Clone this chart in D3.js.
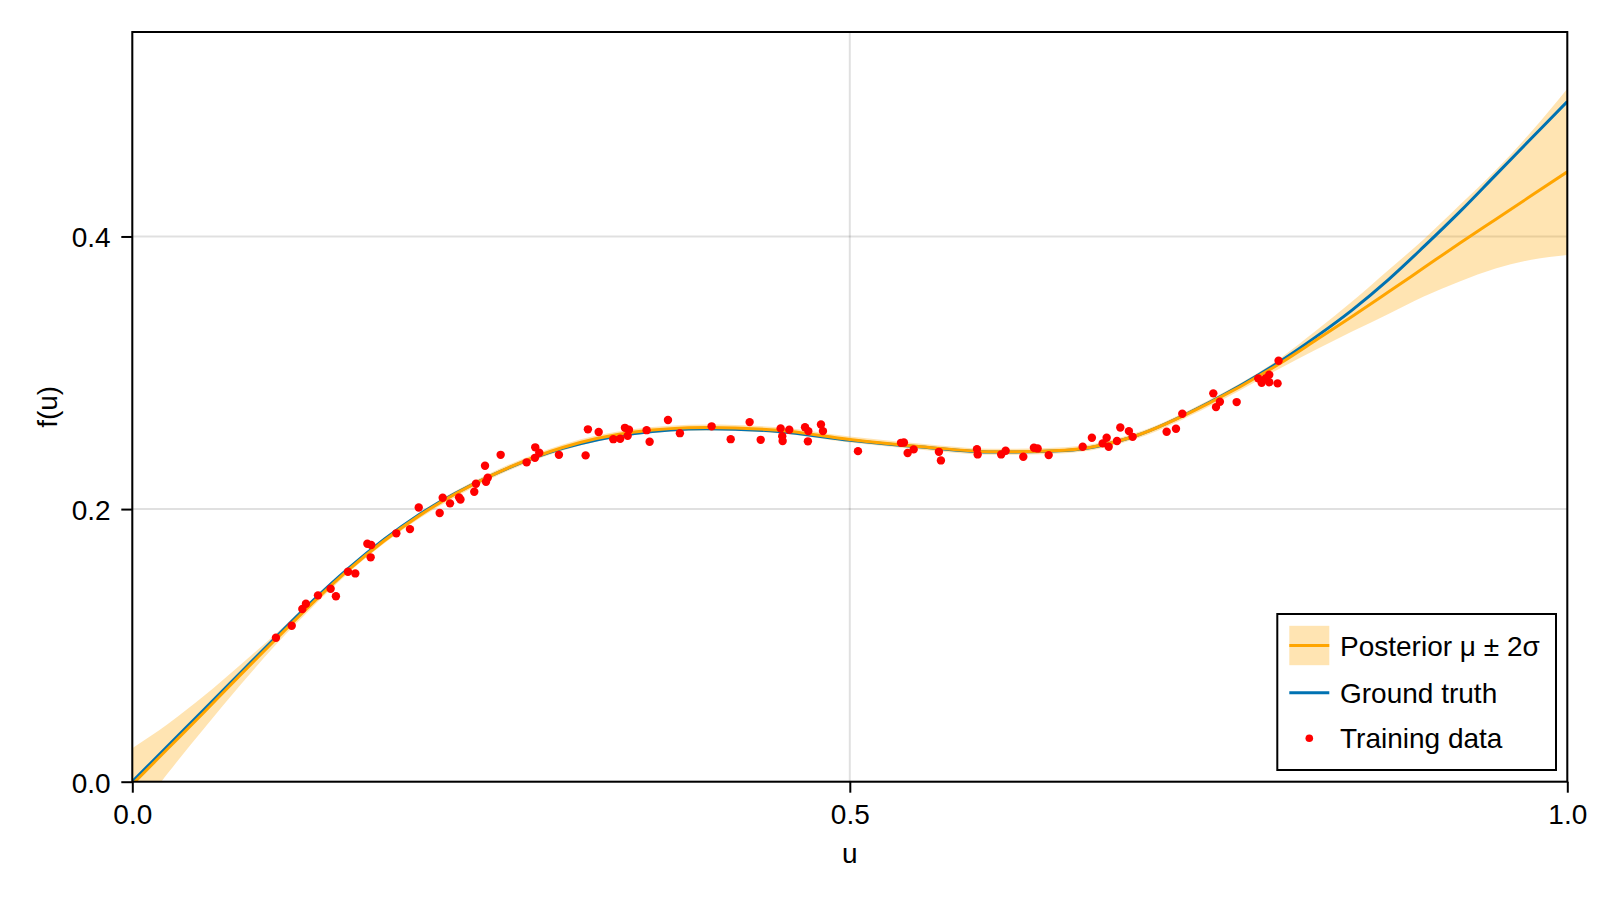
<!DOCTYPE html>
<html>
<head>
<meta charset="utf-8">
<script src="https://cdn.jsdelivr.net/npm/d3@7"></script>
<style>
  html, body { margin: 0; padding: 0; background: #fff; }
  svg { display: block; }
  text { font-family: "Liberation Sans", Arial, Helvetica, sans-serif; fill: #000; }
</style>
</head>
<body>
<svg id="chart" width="1600" height="900"></svg>
<script>
// ---------- data ----------
const uGrid = [0, 0.025, 0.05, 0.075, 0.10, 0.125, 0.15, 0.20, 0.25, 0.30, 0.35, 0.40, 0.45, 0.50,
  0.55, 0.60, 0.65, 0.70, 0.75, 0.80, 0.825, 0.85, 0.875, 0.90, 0.925, 0.95, 0.975, 1.00];
const groundTruth = [0, 0.0265, 0.053, 0.0795, 0.106, 0.132, 0.156, 0.196, 0.2245, 0.2445, 0.2555, 0.2590,
  0.2570, 0.2505, 0.2455, 0.2418, 0.2430, 0.2540, 0.2780, 0.3085, 0.3265, 0.3460, 0.3680, 0.3925, 0.4180,
  0.4450, 0.4720, 0.4990];
const posteriorMean = [-0.002, 0.0245, 0.051, 0.078, 0.1045, 0.1305, 0.1548, 0.1952, 0.2245, 0.2452, 0.2565,
  0.2598, 0.2578, 0.2510, 0.2458, 0.2420, 0.2432, 0.2540, 0.2775, 0.3070, 0.3240, 0.3412, 0.3590, 0.3770,
  0.3950, 0.4125, 0.4300, 0.4474];
const twoSigma = [0.0265, 0.018, 0.012, 0.0075, 0.004, 0.003, 0.0022, 0.0022, 0.0022, 0.0022, 0.0022, 0.0022,
  0.0022, 0.0022, 0.0022, 0.0022, 0.0022, 0.0022, 0.0024, 0.0037, 0.007, 0.011, 0.016, 0.021, 0.028,
  0.036, 0.047, 0.061];

const trainU = [0.1001, 0.1111, 0.1185, 0.1210, 0.1294, 0.1382, 0.1419, 0.1503, 0.1554, 0.1638, 0.1665, 0.1661,
  0.1840, 0.1935, 0.1996, 0.2142, 0.2214, 0.2163, 0.2277, 0.2287, 0.2383, 0.2395, 0.2465, 0.2458, 0.2567,
  0.2477, 0.2748, 0.2808, 0.2836, 0.2806, 0.2973, 0.3159, 0.3175, 0.3250, 0.3352, 0.3400, 0.3433, 0.3461,
  0.3452, 0.3584, 0.3605, 0.3733, 0.3816, 0.4037, 0.4170, 0.4302, 0.4379, 0.4518, 0.4529, 0.4532, 0.4578,
  0.4688, 0.4711, 0.4708, 0.4799, 0.4813, 0.5057, 0.5357, 0.5377, 0.5403, 0.5445, 0.5621, 0.5635, 0.5886,
  0.5891, 0.6055, 0.6086, 0.6209, 0.6283, 0.6309, 0.6386, 0.6623, 0.6687, 0.6762, 0.6790, 0.6804, 0.6862,
  0.6885, 0.6945, 0.6971, 0.7208, 0.7273, 0.7317, 0.7533, 0.7579, 0.7552, 0.7696, 0.7846, 0.7870, 0.7900,
  0.7923, 0.7923, 0.7981, 0.7988];
const trainF = [0.1056, 0.1144, 0.1267, 0.1305, 0.1367, 0.1415, 0.1360, 0.1540, 0.1528, 0.1746, 0.1736, 0.1646,
  0.1822, 0.1853, 0.2012, 0.1971, 0.2042, 0.2083, 0.2086, 0.2070, 0.2127, 0.2186, 0.2200, 0.2318, 0.2398,
  0.2230, 0.2343, 0.2453, 0.2413, 0.2376, 0.2398, 0.2394, 0.2585, 0.2565, 0.2513, 0.2516, 0.2596, 0.2582,
  0.2538, 0.2579, 0.2494, 0.2653, 0.2557, 0.2607, 0.2513, 0.2638, 0.2508, 0.2592, 0.2535, 0.2499, 0.2582,
  0.2601, 0.2572, 0.2497, 0.2621, 0.2572, 0.2425, 0.2486, 0.2489, 0.2411, 0.2438, 0.2420, 0.2357, 0.2440,
  0.2401, 0.2401, 0.2428, 0.2384, 0.2450, 0.2445, 0.2396, 0.2457, 0.2523, 0.2482, 0.2523, 0.2457, 0.2499,
  0.2599, 0.2572, 0.2530, 0.2567, 0.2589, 0.2699, 0.2849, 0.2787, 0.2748, 0.2785, 0.2959, 0.2926, 0.2961,
  0.2985, 0.2931, 0.2922, 0.3088];

const xTicks = [0.0, 0.5, 1.0];
const yTicks = [0.0, 0.2, 0.4];
const legendLabels = ["Posterior \u03bc \u00b1 2\u03c3", "Ground truth", "Training data"];

// ---------- styling ----------
const ORANGE = "#FFA500";
const BAND = "rgba(255,165,0,0.3)";
const BLUE = "#0072B2";
const RED = "#FF0000";
const FS = 28;

const svg = d3.select("#chart");
const L = 132.3, R = 1567.3, T = 32, B = 781.7;
const x = d3.scaleLinear().domain([0, 1]).range([L, R]);
const y = d3.scaleLinear().domain([0, 0.55]).range([B, T]);

svg.append("defs").append("clipPath").attr("id", "plotclip")
  .append("rect").attr("x", L).attr("y", T).attr("width", R - L).attr("height", B - T);

// grid lines
const grid = svg.append("g");
grid.selectAll("line.gx").data(xTicks).join("line")
  .attr("x1", d => x(d)).attr("x2", d => x(d)).attr("y1", T).attr("y2", B)
  .attr("stroke", "rgba(0,0,0,0.12)").attr("stroke-width", 2);
grid.selectAll("line.gy").data(yTicks).join("line")
  .attr("y1", d => y(d)).attr("y2", d => y(d)).attr("x1", L).attr("x2", R)
  .attr("stroke", "rgba(0,0,0,0.12)").attr("stroke-width", 2);

const rows = uGrid.map((u, i) => ({ u, t: groundTruth[i], m: posteriorMean[i], s: twoSigma[i] }));
const plot = svg.append("g").attr("clip-path", "url(#plotclip)");
const curve = d3.curveMonotoneX;

plot.append("path").datum(rows)
  .attr("d", d3.area().x(d => x(d.u)).y0(d => y(d.m - d.s)).y1(d => y(d.m + d.s)).curve(curve))
  .attr("fill", BAND).attr("stroke", "none");

plot.append("path").datum(rows)
  .attr("d", d3.line().x(d => x(d.u)).y(d => y(d.t)).curve(curve))
  .attr("fill", "none").attr("stroke", BLUE).attr("stroke-width", 3);

plot.append("path").datum(rows)
  .attr("d", d3.line().x(d => x(d.u)).y(d => y(d.m)).curve(curve))
  .attr("fill", "none").attr("stroke", ORANGE).attr("stroke-width", 3);

plot.selectAll("circle.pt").data(trainU.map((u, i) => [u, trainF[i]])).join("circle")
  .attr("cx", d => x(d[0])).attr("cy", d => y(d[1])).attr("r", 4.2).attr("fill", RED);

// spines
svg.append("rect").attr("x", L).attr("y", T).attr("width", R - L).attr("height", B - T)
  .attr("fill", "none").attr("stroke", "#000").attr("stroke-width", 2);

// axes
const fmt = d3.format(".1f");
const xAxis = svg.append("g").attr("transform", `translate(0,${B})`)
  .call(d3.axisBottom(x).tickValues(xTicks).tickFormat(fmt).tickSize(11).tickPadding(11.7));
const yAxis = svg.append("g").attr("transform", `translate(${L},0)`)
  .call(d3.axisLeft(y).tickValues(yTicks).tickFormat(fmt).tickSize(11).tickPadding(10.6));
[xAxis, yAxis].forEach(g => {
  g.select(".domain").remove();
  g.selectAll(".tick line").attr("stroke", "#000").attr("stroke-width", 2);
  g.selectAll(".tick text").attr("font-size", FS).attr("font-family", '"Liberation Sans", Arial, sans-serif').attr("fill", "#000");
});
yAxis.selectAll(".tick text").attr("dy", "0.37em");

// axis labels
svg.append("text").attr("x", (L + R) / 2).attr("y", 863.3).attr("text-anchor", "middle")
  .attr("font-size", FS).text("u");
svg.append("text").attr("transform", `translate(57,${(T + B) / 2}) rotate(-90)`).attr("text-anchor", "middle")
  .attr("font-size", FS).text("f(u)");

// legend
const lg = svg.append("g");
lg.append("rect").attr("x", 1277.3).attr("y", 614).attr("width", 1556 - 1277.3).attr("height", 770 - 614)
  .attr("fill", "#fff").attr("stroke", "#000").attr("stroke-width", 2);
const rowY = [645.5, 692.7, 738.3];
lg.append("rect").attr("x", 1289.3).attr("y", rowY[0] - 19.7).attr("width", 40).attr("height", 39.4).attr("fill", BAND);
lg.append("line").attr("x1", 1289.3).attr("x2", 1329.3).attr("y1", rowY[0]).attr("y2", rowY[0])
  .attr("stroke", ORANGE).attr("stroke-width", 3);
lg.append("line").attr("x1", 1289.3).attr("x2", 1329.3).attr("y1", rowY[1]).attr("y2", rowY[1])
  .attr("stroke", BLUE).attr("stroke-width", 3);
lg.append("circle").attr("cx", 1309.3).attr("cy", rowY[2]).attr("r", 3.8).attr("fill", RED);
lg.selectAll("text.lt").data(legendLabels).join("text")
  .attr("x", 1340).attr("y", (d, i) => rowY[i] + 10).attr("font-size", FS).text(d => d);
</script>
</body>
</html>
